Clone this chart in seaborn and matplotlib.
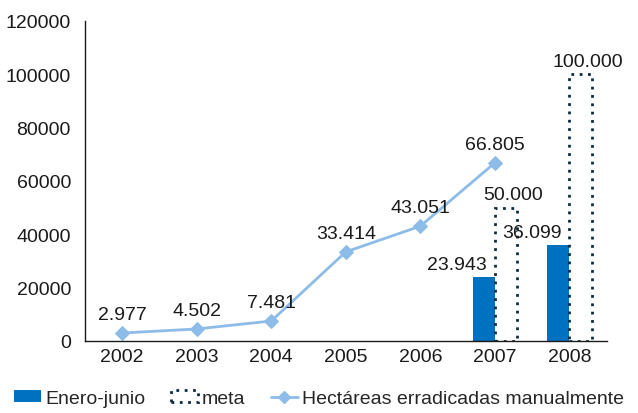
import pandas as pd
import matplotlib
matplotlib.use('Agg')
import matplotlib.pyplot as plt
from matplotlib.patches import Patch
from matplotlib.lines import Line2D
import seaborn as sns

years = ['2002', '2003', '2004', '2005', '2006', '2007', '2008']
hectareas = [2977, 4502, 7481, 33414, 43051, 66805]
enero_junio = [None, None, None, None, None, 23943, 36099]
meta = [None, None, None, None, None, 50000, 100000]

def fmt(v):
    return f'{v:,.0f}'.replace(',', '.')

sns.set_style('white')
plt.rcParams['font.family'] = ['Liberation Sans', 'DejaVu Sans']
FS = 14

bars = pd.DataFrame({
    'year': years * 2,
    'serie': ['Enero-junio'] * len(years) + ['meta'] * len(years),
    'valor': enero_junio + meta,
})

fig = plt.figure(figsize=(6.38, 4.14), dpi=100)
ax = fig.add_axes([0.133, 0.174, 0.818, 0.773])

sns.barplot(data=bars, x='year', y='valor', hue='serie', order=years,
            hue_order=['Enero-junio', 'meta'], palette=['#0070C0', 'white'],
            width=0.6, dodge=True, legend=False, ax=ax, saturation=1)

# meta bars: white with dotted dark outline
for cont, name in zip(ax.containers, ['Enero-junio', 'meta']):
    for p in cont.patches:
        if name == 'meta':
            p.set_edgecolor('#0d2b3e')
            p.set_linestyle((0, (1, 2)))
            p.set_linewidth(2)
        else:
            p.set_edgecolor('none')

# labels on bars
for i, v in enumerate(enero_junio):
    if v is not None:
        ax.annotate(fmt(v), (i - 0.15, v), xytext=(-19, 3), textcoords='offset points',
                    ha='center', va='bottom', fontsize=FS, color='#1a1a1a')
for i, v in enumerate(meta):
    if v is not None:
        ax.annotate(fmt(v), (i + 0.15, v), xytext=(5, 3), textcoords='offset points',
                    ha='center', va='bottom', fontsize=FS, color='#1a1a1a')

line_df = pd.DataFrame({'x': list(range(len(hectareas))), 'y': hectareas})
sns.lineplot(data=line_df, x='x', y='y', ax=ax, color='#8DBCE8', linewidth=2,
             marker='D', markersize=7, markeredgecolor='#8DBCE8')
for i, v in enumerate(hectareas):
    ax.annotate(fmt(v), (i, v), xytext=(0, 7), textcoords='offset points',
                ha='center', va='bottom', fontsize=FS, color='#1a1a1a')

ax.set_xlim(-0.5, len(years) - 0.5)
ax.set_ylim(0, 120000)
ax.set_yticks(range(0, 120001, 20000))
ax.set_xticks(range(len(years)))
ax.set_xticklabels(years)
ax.set_xticks([i - 0.5 for i in range(len(years) + 1)], minor=True)
ax.tick_params(axis='x', which='major', length=0, labelsize=FS, pad=5, colors='#1a1a1a')
ax.tick_params(axis='x', which='minor', length=6, width=1, direction='out', colors='#1a1a1a')
ax.tick_params(axis='y', length=5, width=1, direction='out', labelsize=FS, pad=5, colors='#1a1a1a')
ax.set_xlabel('')
ax.set_ylabel('')
for s in ['top', 'right']:
    ax.spines[s].set_visible(False)
for s in ['left', 'bottom']:
    ax.spines[s].set_color('#1a1a1a')
    ax.spines[s].set_linewidth(1)

handles = [
    Patch(facecolor='#0070C0', edgecolor='none'),
    Patch(facecolor='white', edgecolor='#0d2b3e', linestyle=(0, (1, 2)), linewidth=2),
    Line2D([0], [0], color='#8DBCE8', linewidth=2, marker='D', markersize=6),
]
fig.legend(handles, ['Enero-junio', 'meta', 'Hectáreas erradicadas manualmente'],
           loc='lower center', bbox_to_anchor=(0.5, 0.0), ncol=3, frameon=False,
           fontsize=FS, handlelength=1.4, handleheight=0.6, handletextpad=0.2,
           columnspacing=1.3, borderaxespad=0.1, borderpad=0.2)

fig.savefig('out.png', dpi=100)
